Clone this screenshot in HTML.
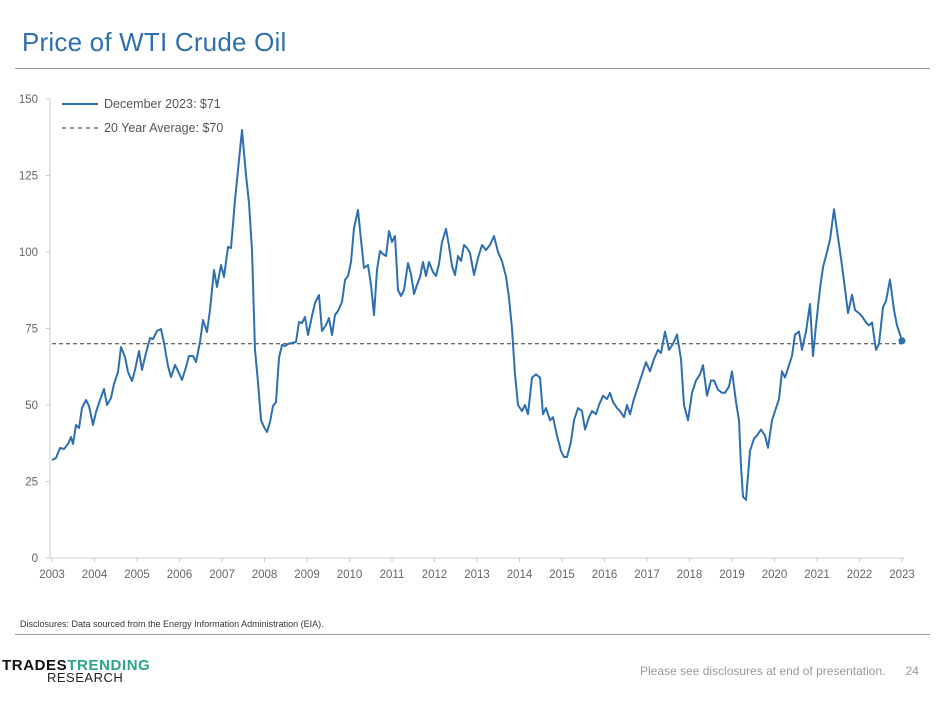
<!DOCTYPE html>
<html><head><meta charset="utf-8"><style>
body{margin:0;background:#fff;font-family:"Liberation Sans",sans-serif;}
#w{position:relative;width:936px;height:705px;overflow:hidden}
</style></head><body><div id="w">
<div style="position:absolute;left:22px;top:27px;font-size:26px;color:#2e6fb0;letter-spacing:0.2px">Price of WTI Crude Oil</div>
<div style="position:absolute;left:15px;top:68px;width:915px;height:1px;background:#999"></div>
<div style="position:absolute;left:20px;top:619px;font-size:9px;color:#333">Disclosures: Data sourced from the Energy Information Administration (EIA).</div>
<div style="position:absolute;left:15px;top:634px;width:915px;height:1px;background:#999"></div>
<div style="position:absolute;left:640px;top:664px;font-size:12px;color:#999">Please see disclosures at end of presentation.&nbsp;&nbsp;&nbsp;&nbsp;&nbsp;&nbsp;24</div>
<div style="position:absolute;left:2px;top:657px;font-size:15px;font-weight:bold;letter-spacing:0.6px"><span style="color:#111">TRADES</span><span style="color:#2aa58a">TRENDING</span></div>
<div style="position:absolute;left:47px;top:670px;font-size:13px;color:#222;letter-spacing:0.5px">RESEARCH</div>
<svg id="s" width="936" height="705" style="position:absolute;left:0;top:0" font-family="Liberation Sans,sans-serif"></svg>
</div>
<script>
var s=document.getElementById('s'),h='';
function Y(v){return 558-3.06*v}
h+='<line x1="50" y1="99" x2="50" y2="558" stroke="#ccc"/><line x1="50" y1="558" x2="904" y2="558" stroke="#ccc"/>';
[0,25,50,75,100,125,150].forEach(function(v){h+='<text x="38" y="'+(Y(v)+4)+'" font-size="11.5" fill="#666" text-anchor="end">'+v+'</text><line x1="46" y1="'+Y(v)+'" x2="50" y2="'+Y(v)+'" stroke="#ccc"/>'});
for(var i=0;i<=20;i++){var x=52+42.5*i;h+='<text x="'+x+'" y="578" font-size="11.5" fill="#666" text-anchor="middle">'+(2003+i)+'</text><line x1="'+x+'" y1="558" x2="'+x+'" y2="562" stroke="#ccc"/>'}
var p="52,460 56,458 60,448 64,449 68,444 71,437 73,444 76,425 79,428 82,408 86,400 89,406 93,425 96,412 100,400 104,389 107,405 111,398 114,384 118,372 121,347 125,357 128,372 132,381 135,370 139,351 142,370 146,353 150,338 153,339 157,331 161,329 164,343 168,366 171,377 175,365 178,371 182,380 186,367 189,356 193,356 196,362 200,342 203,320 207,332 210,310 214,270 217,287 221,265 224,277 228,247 231,248 235,200 239,160 242,130 246,175 249,203 252,250 255,350 258,382 261,420 264,427 267,432 270,422 273,406 276,402 279,358 282,345 285,346 288,344 292,343 296,342 299,322 302,323 305,317 308,335 312,316 315,303 319,295 322,331 326,325 329,318 332,335 335,315 338,311 342,302 345,280 348,276 351,262 354,228 358,210 361,240 364,268 368,265 371,285 374,315 377,270 380,251 383,254 386,256 389,231 392,242 395,236 398,290 401,296 404,290 408,263 411,274 414,294 417,285 420,277 423,262 426,276 429,262 433,272 436,276 439,264 442,242 446,229 449,246 452,266 455,275 458,256 461,261 464,245 467,248 470,253 474,275 478,258 482,245 486,250 490,245 494,236";
var v=[[498,100],[502,97],[506,92],[509,85],[512,75],[515,60],[518,50],[522,48],[525,50],[528,47],[532,59],[536,60],[540,59],[543,47],[546,49],[550,45],[553,46],[557,40],[561,35],[564,33],[567,33],[571,38],[574,45],[578,49],[582,48],[585,42],[589,46],[592,48],[596,47],[599,50],[603,53],[607,52],[610,54],[613,51],[617,49],[620,48],[624,46],[627,50],[630,47],[634,52],[638,56],[642,60],[646,64],[650,61],[654,65],[658,68],[661,67],[665,74],[669,68],[673,70],[677,73],[681,65],[684,50],[688,45],[692,54],[696,58],[700,60],[703,63],[707,53],[711,58],[714,58],[718,55],[722,54],[725,54],[729,56],[732,61],[736,51],[739,45],[741,30],[743,20],[746,19],[750,35],[754,39],[757,40],[761,42],[765,40],[768,36],[772,45],[776,49],[779,52],[782,61],[785,59],[789,63],[792,66],[795,73],[799,74],[802,68],[806,74],[810,83],[813,66],[816,76],[820,88],[823,95],[827,100],[830,104],[834,114],[837,107],[841,98],[845,88],[848,80],[852,86],[855,81],[859,80],[862,79],[866,77],[869,76],[872,77],[876,68],[879,70],[883,82],[886,84],[890,91],[894,81],[897,76],[902,71]];
v.forEach(function(a){p+=' '+a[0]+','+Y(a[1]).toFixed(1)});
h+='<line x1="52" y1="'+Y(70)+'" x2="904" y2="'+Y(70)+'" stroke="#333" stroke-dasharray="4,3"/>';
h+='<polyline points="'+p+'" fill="none" stroke="#2e6fb0" stroke-width="2" stroke-linejoin="round"/>';
h+='<circle cx="902" cy="'+Y(71)+'" r="3.5" fill="#2e6fb0"/>';
h+='<line x1="62" y1="104" x2="98" y2="104" stroke="#2e6fb0" stroke-width="2"/><text x="104" y="108" font-size="12.5" fill="#555">December 2023: $71</text>';
h+='<line x1="62" y1="128" x2="98" y2="128" stroke="#333" stroke-dasharray="4,4"/><text x="104" y="132" font-size="12.5" fill="#555">20 Year Average: $70</text>';
s.innerHTML=h;
</script></body></html>
